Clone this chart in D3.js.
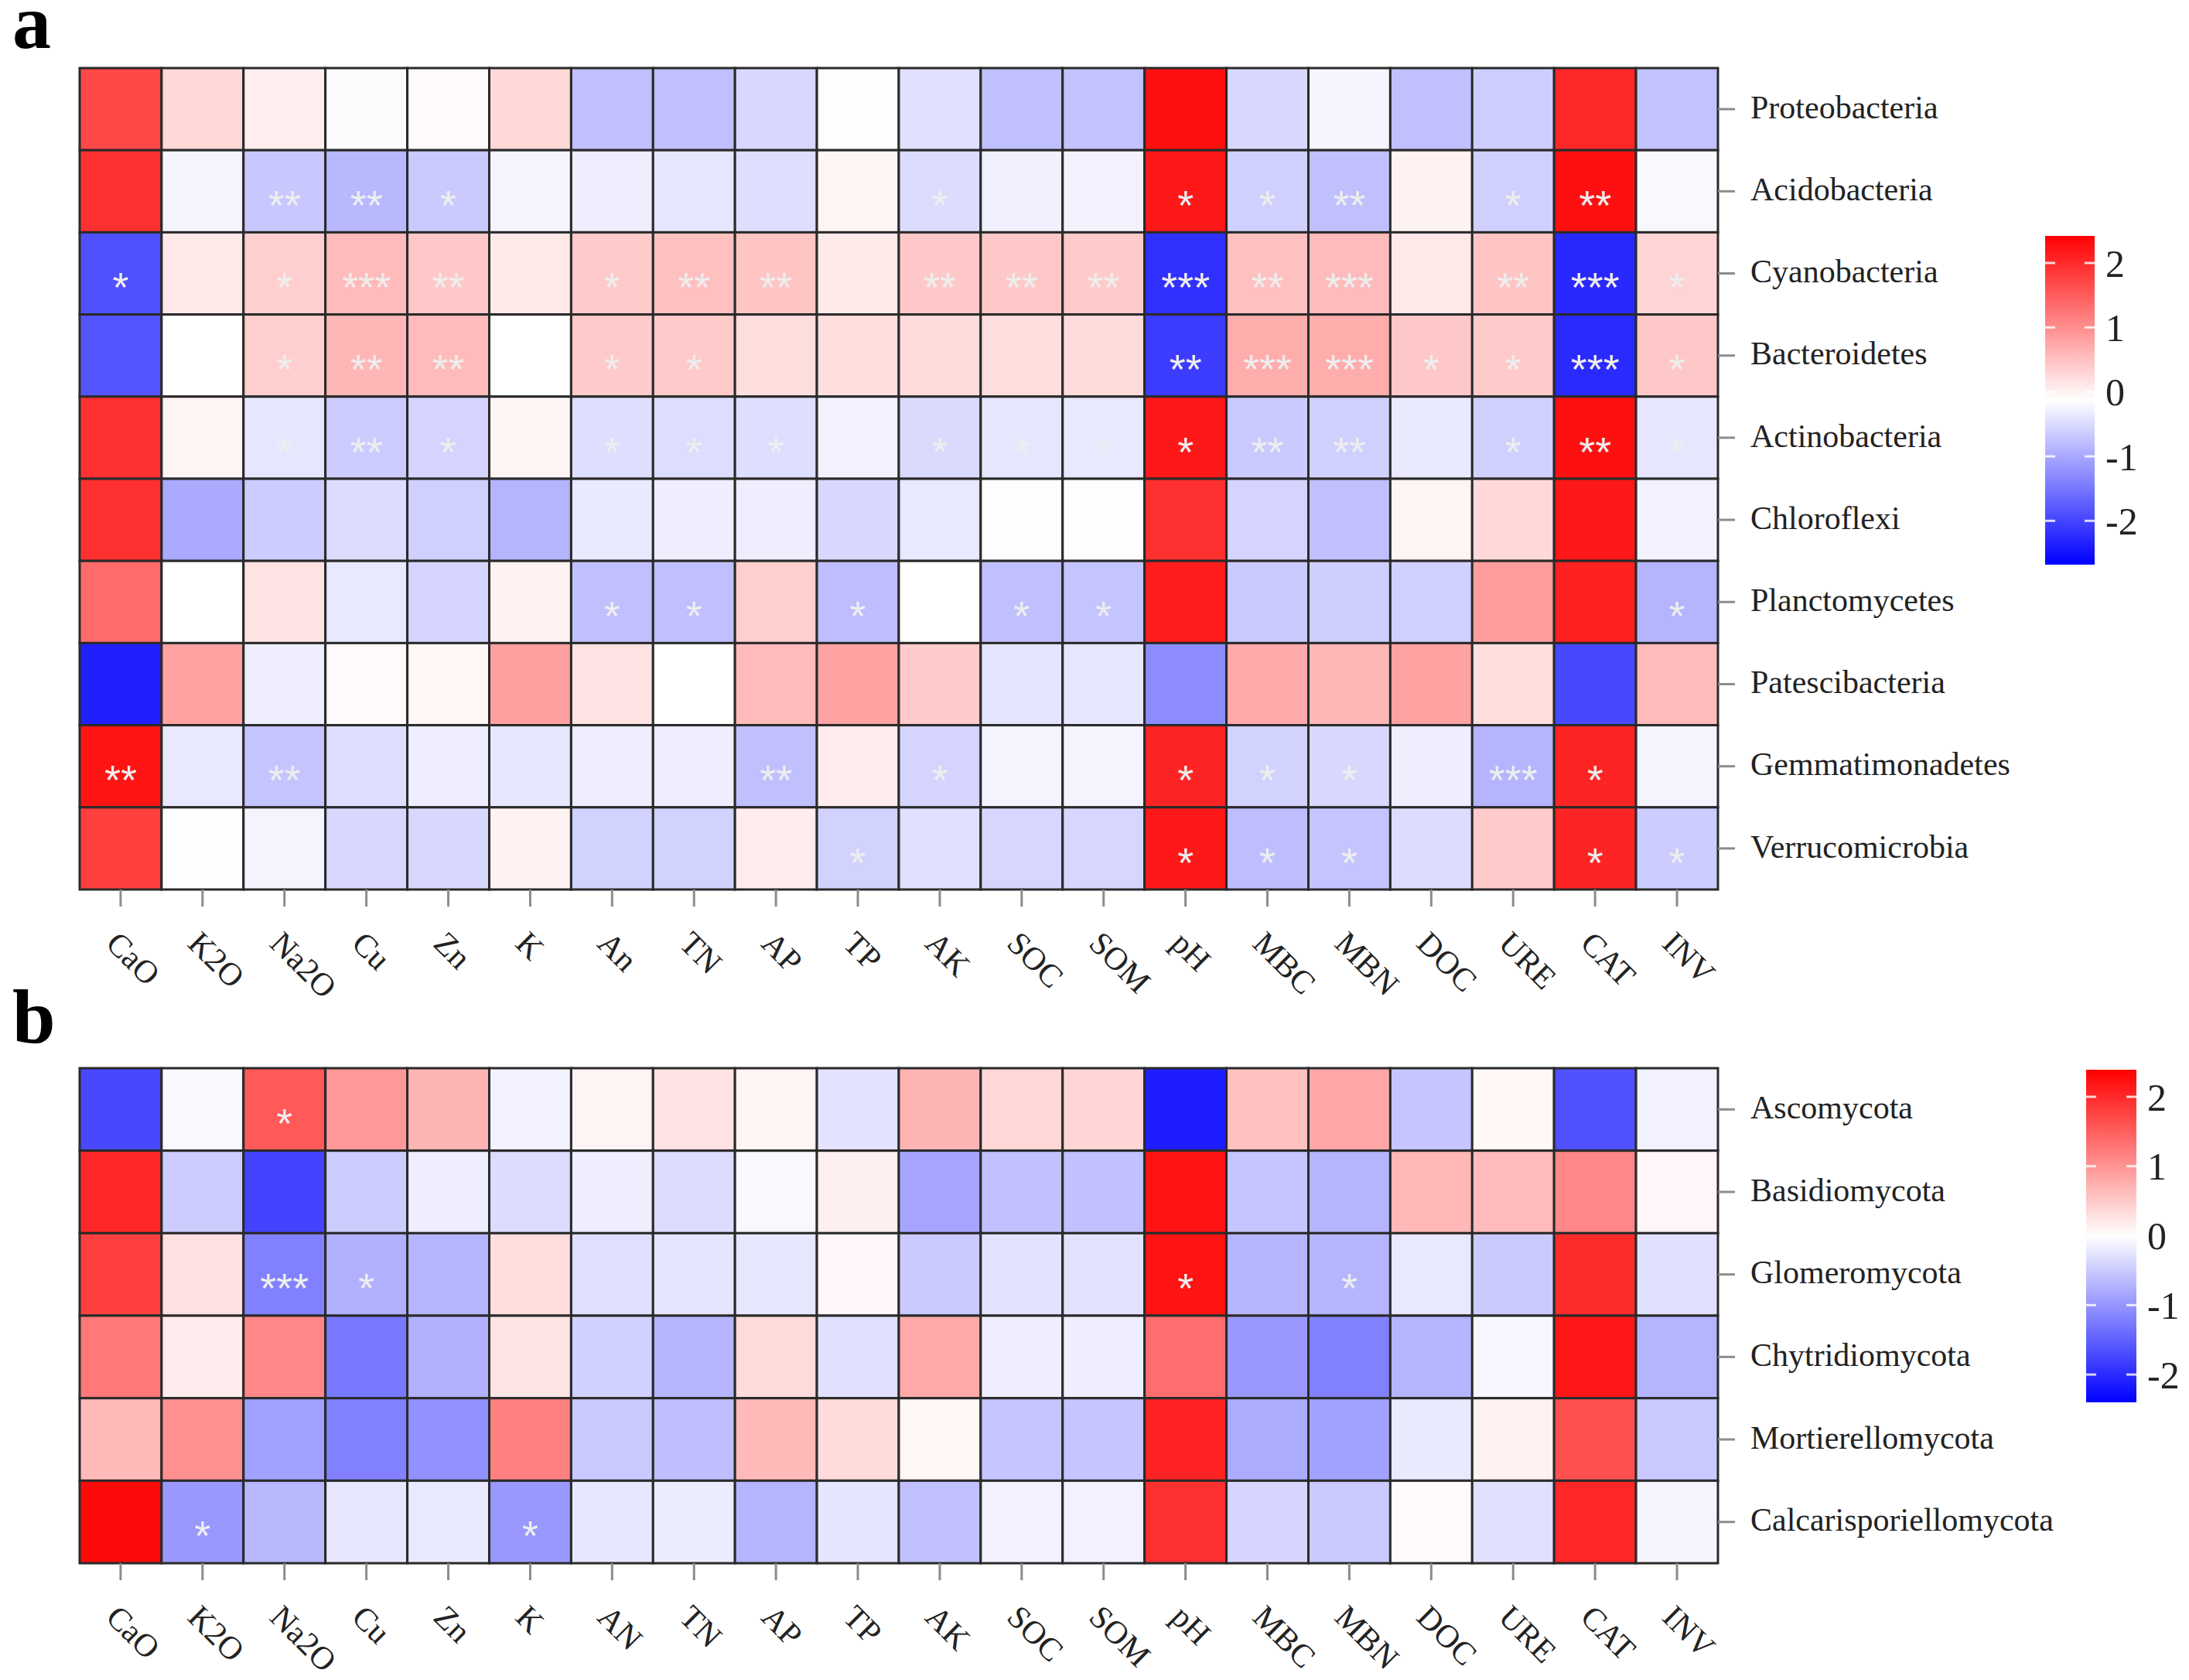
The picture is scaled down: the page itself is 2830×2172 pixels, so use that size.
<!DOCTYPE html>
<html>
<head>
<meta charset="utf-8">
<script src="https://cdn.jsdelivr.net/npm/d3@7"></script>
<style>
  body { margin: 0; background: #fff; }
</style>
</head>
<body>
<div id="chart"></div>
<script>
// column variables (soil properties)
const varsA = ["CaO","K2O","Na2O","Cu","Zn","K","An","TN","AP","TP","AK","SOC","SOM","pH","MBC","MBN","DOC","URE","CAT","INV"];
const varsB = ["CaO","K2O","Na2O","Cu","Zn","K","AN","TN","AP","TP","AK","SOC","SOM","pH","MBC","MBN","DOC","URE","CAT","INV"];

// row taxa
const bacteria = ["Proteobacteria","Acidobacteria","Cyanobacteria","Bacteroidetes","Actinobacteria",
                  "Chloroflexi","Planctomycetes","Patescibacteria","Gemmatimonadetes","Verrucomicrobia"];
const fungi = ["Ascomycota","Basidiomycota","Glomeromycota","Chytridiomycota","Mortierellomycota","Calcarisporiellomycota"];

// scaled correlation values, panel a
const valuesA = [
  [1.70, 0.26, 0.04, -0.16, -0.08, 0.26, -0.76, -0.76, -0.52, -0.10, -0.44, -0.76, -0.74, 2.26, -0.52, -0.23, -0.76, -0.63, 2.02, -0.74],
  [1.94, -0.24, -0.68, -0.84, -0.66, -0.24, -0.30, -0.38, -0.46, -0.03, -0.48, -0.28, -0.26, 2.18, -0.60, -0.76, 0.00, -0.60, 2.26, -0.20],
  [-1.88, 0.10, 0.35, 0.55, 0.42, 0.10, 0.40, 0.50, 0.45, 0.08, 0.42, 0.42, 0.40, -2.20, 0.50, 0.55, 0.10, 0.45, -2.28, 0.30],
  [-1.83, -0.13, 0.35, 0.60, 0.55, -0.13, 0.40, 0.40, 0.20, 0.20, 0.22, 0.20, 0.22, -2.08, 0.70, 0.70, 0.42, 0.40, -2.26, 0.42],
  [1.94, -0.02, -0.38, -0.64, -0.56, -0.03, -0.46, -0.47, -0.46, -0.26, -0.50, -0.38, -0.36, 2.18, -0.66, -0.60, -0.34, -0.60, 2.26, -0.38],
  [1.94, -0.98, -0.64, -0.48, -0.60, -0.88, -0.34, -0.30, -0.30, -0.52, -0.36, -0.15, -0.15, 1.94, -0.56, -0.76, -0.02, 0.25, 2.18, -0.26],
  [1.36, -0.13, 0.15, -0.36, -0.56, 0.00, -0.76, -0.76, 0.35, -0.78, -0.13, -0.76, -0.72, 2.14, -0.66, -0.62, -0.60, 0.85, 2.10, -0.88],
  [-2.36, 0.80, -0.30, -0.08, -0.04, 0.82, 0.15, -0.13, 0.55, 0.80, 0.40, -0.40, -0.38, -1.28, 0.72, 0.60, 0.80, 0.20, -1.96, 0.55],
  [2.22, -0.36, -0.72, -0.46, -0.30, -0.38, -0.30, -0.30, -0.76, 0.05, -0.56, -0.24, -0.24, 2.06, -0.58, -0.52, -0.30, -0.88, 2.06, -0.24],
  [1.80, -0.12, -0.24, -0.52, -0.52, 0.00, -0.58, -0.58, 0.05, -0.58, -0.44, -0.54, -0.54, 2.18, -0.78, -0.72, -0.48, 0.40, 2.06, -0.64]
];

// significance marks, panel a
const starsA = [
  ["","","","","","","","","","","","","","","","","","","",""],
  ["","","**","**","*","","","","","","*","","","*","*","**","","*","**",""],
  ["*","","*","***","**","","*","**","**","","**","**","**","***","**","***","","**","***","*"],
  ["","","*","**","**","","*","*","","","","","","**","***","***","*","*","***","*"],
  ["","","*","**","*","","*","*","*","","*","*","*","*","**","**","","*","**","*"],
  ["","","","","","","","","","","","","","","","","","","",""],
  ["","","","","","","*","*","","*","","*","*","","","","","","","*"],
  ["","","","","","","","","","","","","","","","","","","",""],
  ["**","","**","","","","","","**","","*","","","*","*","*","","***","*",""],
  ["","","","","","","","","","*","","","","*","*","*","","","*","*"]
];

// scaled correlation values, panel b
const valuesB = [
  [-1.72, -0.07, 1.55, 0.95, 0.70, -0.12, 0.10, 0.27, 0.10, -0.27, 0.70, 0.37, 0.39, -2.13, 0.59, 0.82, -0.55, 0.08, -1.64, -0.14],
  [2.02, -0.48, -1.76, -0.48, -0.16, -0.33, -0.16, -0.33, -0.07, 0.14, -0.85, -0.59, -0.59, 2.21, -0.55, -0.70, 0.67, 0.63, 1.12, 0.07],
  [1.79, 0.29, -1.19, -0.74, -0.70, 0.31, -0.31, -0.25, -0.23, 0.07, -0.50, -0.27, -0.27, 2.21, -0.70, -0.70, -0.22, -0.50, 1.98, -0.29],
  [1.25, 0.18, 1.12, -1.27, -0.74, 0.25, -0.44, -0.70, 0.33, -0.29, 0.80, -0.16, -0.16, 1.36, -0.97, -1.19, -0.70, -0.08, 2.17, -0.70],
  [0.65, 1.04, -0.89, -1.19, -1.04, 1.19, -0.50, -0.61, 0.65, 0.33, 0.08, -0.55, -0.55, 2.06, -0.78, -0.89, -0.20, 0.12, 1.64, -0.50],
  [2.30, -0.97, -0.67, -0.23, -0.22, -0.97, -0.23, -0.18, -0.70, -0.25, -0.59, -0.14, -0.14, 1.94, -0.40, -0.50, 0.04, -0.29, 2.02, -0.10]
];

// significance marks, panel b
const starsB = [
  ["","","*","","","","","","","","","","","","","","","","",""],
  ["","","","","","","","","","","","","","","","","","","",""],
  ["","","***","*","","","","","","","","","","*","","*","","","",""],
  ["","","","","","","","","","","","","","","","","","","",""],
  ["","","","","","","","","","","","","","","","","","","",""],
  ["","*","","","","*","","","","","","","","","","","","","",""]
];

// colour-key ranges and ticks
const rangeA = [-2.68, 2.42];
const rangeB = [-2.40, 2.39];
const legendTicks = [-2, -1, 0, 1, 2];

const W = 2830, H = 2172;
const serif = "'Liberation Serif', 'Times New Roman', serif";

const svg = d3.select("#chart").append("svg")
  .attr("width", W).attr("height", H)
  .style("background", "#fff");

const x = d3.scaleBand().domain(d3.range(20)).range([103, 2221]);

function drawPanel(opts) {
  const { rows, cols, values, stars, top, bottom, range, letter, letterY, legend } = opts;
  const mid = (range[0] + range[1]) / 2;
  const color = d3.scaleLinear()
    .domain([range[0], mid, range[1]])
    .range(["#0000FF", "#FFFFFF", "#FF0000"])
    .clamp(true);

  const y = d3.scaleBand().domain(rows).range([top, bottom]);
  const g = svg.append("g");

  // cells
  const cells = [];
  values.forEach((row, i) => row.forEach((v, j) => cells.push({ r: rows[i], c: j, v, s: stars[i][j] })));

  g.selectAll("rect.cell").data(cells).join("rect")
    .attr("class", "cell")
    .attr("x", d => x(d.c))
    .attr("y", d => y(d.r))
    .attr("width", x.bandwidth())
    .attr("height", y.bandwidth())
    .attr("fill", d => color(d.v))
    .attr("stroke", "#2a2a2a")
    .attr("stroke-width", 3);

  // stars, asterisk ink centred a little below the cell middle
  const fs = 54;
  g.selectAll("text.star").data(cells.filter(d => d.s)).join("text")
    .attr("class", "star")
    .attr("x", d => x(d.c) + x.bandwidth() / 2)
    .attr("y", d => y(d.r) + y.bandwidth() / 2 + 6 + 0.57 * fs)
    .attr("text-anchor", "middle")
    .attr("font-family", "'Liberation Sans', Arial, sans-serif")
    .attr("font-size", fs)
    .attr("fill", "#eeeeee")
    .text(d => d.s);

  // right axis (row labels)
  const ay = g.append("g")
    .attr("transform", `translate(2221,0)`)
    .call(d3.axisRight(y).tickSize(22).tickPadding(20));
  ay.select(".domain").remove();
  ay.selectAll(".tick line").attr("stroke", "#8c8c8c").attr("stroke-width", 3);
  ay.selectAll(".tick text")
    .attr("font-family", serif).attr("font-size", 42).attr("fill", "#222")
    .attr("dy", "0.28em");

  // bottom axis (variables), rotated labels
  const ax = g.append("g")
    .attr("transform", `translate(0,${bottom})`)
    .call(d3.axisBottom(x).tickSize(22).tickFormat(i => cols[i]));
  ax.select(".domain").remove();
  ax.selectAll(".tick line").attr("stroke", "#8c8c8c").attr("stroke-width", 3);
  ax.selectAll(".tick text")
    .attr("x", 0).attr("y", 0).attr("dy", 0)
    .attr("text-anchor", "start")
    .attr("transform", "translate(-21,72) rotate(45)")
    .attr("font-family", serif).attr("font-size", 42).attr("fill", "#222");

  // panel letter
  svg.append("text")
    .attr("x", 16).attr("y", letterY)
    .attr("font-family", serif).attr("font-weight", "bold")
    .attr("font-size", 100).attr("fill", "#000")
    .text(letter);

  // colour key
  const ly = d3.scaleLinear().domain(range).range([legend.y1, legend.y0]);
  const gradId = "grad" + letter;
  const grad = svg.append("defs").append("linearGradient")
    .attr("id", gradId).attr("x1", 0).attr("y1", 1).attr("x2", 0).attr("y2", 0);
  d3.range(0, 1.0001, 0.05).forEach(t => {
    grad.append("stop").attr("offset", t).attr("stop-color", color(range[0] + t * (range[1] - range[0])));
  });
  const lg = svg.append("g");
  lg.append("rect")
    .attr("x", legend.x).attr("y", legend.y0)
    .attr("width", legend.w).attr("height", legend.y1 - legend.y0)
    .attr("fill", `url(#${gradId})`);
  lg.selectAll("line.l").data(legendTicks).join("line")
    .attr("x1", legend.x).attr("x2", legend.x + 13)
    .attr("y1", d => ly(d)).attr("y2", d => ly(d))
    .attr("stroke", "#fff").attr("stroke-opacity", 0.8).attr("stroke-width", 3);
  lg.selectAll("line.r").data(legendTicks).join("line")
    .attr("x1", legend.x + legend.w - 13).attr("x2", legend.x + legend.w)
    .attr("y1", d => ly(d)).attr("y2", d => ly(d))
    .attr("stroke", "#fff").attr("stroke-opacity", 0.8).attr("stroke-width", 3);
  lg.selectAll("text").data(legendTicks).join("text")
    .attr("x", legend.x + legend.w + 14)
    .attr("y", d => ly(d))
    .attr("dy", "0.35em")
    .attr("font-family", serif).attr("font-size", 50).attr("fill", "#222")
    .text(d => d);
}

drawPanel({
  rows: bacteria, cols: varsA, values: valuesA, stars: starsA,
  top: 88, bottom: 1150, range: rangeA, letter: "a", letterY: 62,
  legend: { x: 2644, w: 64, y0: 305, y1: 730 }
});

drawPanel({
  rows: fungi, cols: varsB, values: valuesB, stars: starsB,
  top: 1381, bottom: 2021, range: rangeB, letter: "b", letterY: 1348,
  legend: { x: 2697, w: 65, y0: 1383, y1: 1813 }
});
</script>
</body>
</html>
